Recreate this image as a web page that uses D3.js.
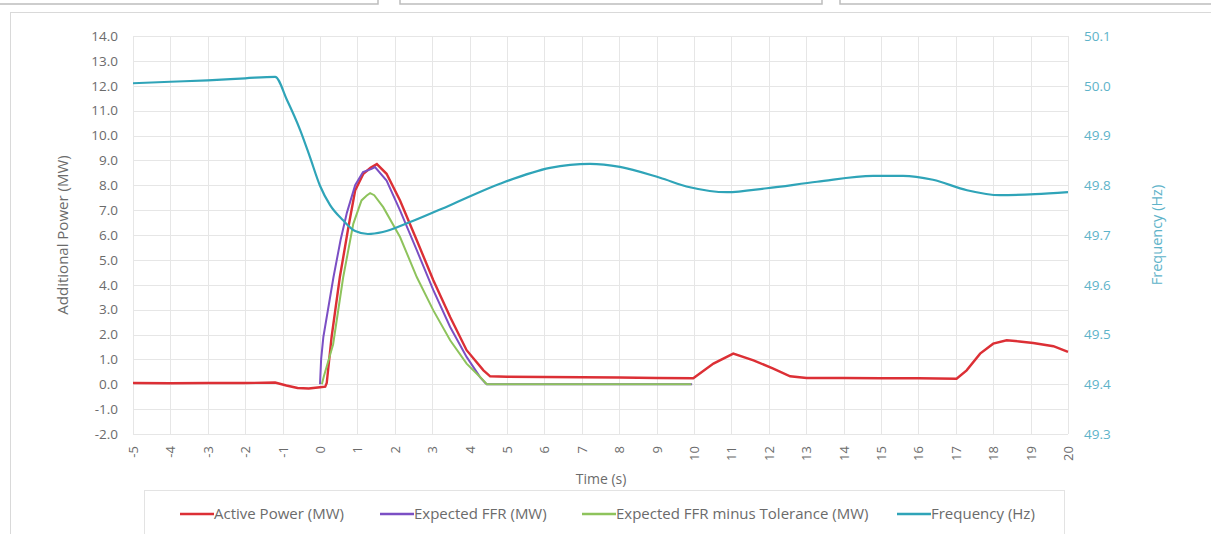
<!DOCTYPE html>
<html>
<head>
<meta charset="utf-8">
<script src="https://d3js.org/d3.v7.min.js"></script>
<style>
  body { margin: 0; background: #fff; }
  text { font-family: "Open Sans", sans-serif; }
</style>
</head>
<body>
<script>
// ---- data ----
var timeTicks = d3.range(-5, 21, 1);
var powerTicks = d3.range(-2, 14.01, 1);
var freqTicks = [49.3, 49.4, 49.5, 49.6, 49.7, 49.8, 49.9, 50.0, 50.1];

var activeT = [-5, -4, -3, -2, -1.2, -0.9, -0.6, -0.3, 0.0, 0.14, 0.18, 0.31, 0.53, 0.76, 0.94, 1.16, 1.35, 1.52, 1.78, 2.14, 2.59, 3.03, 3.48, 3.92, 4.37, 4.55, 5, 6, 7, 8, 9, 9.98, 10.52, 11.05, 11.59, 12.12, 12.57, 13.01, 14, 15, 16, 17.02, 17.29, 17.65, 18.0, 18.36, 18.7, 19.07, 19.61, 20];
var activeP = [0.05, 0.04, 0.05, 0.05, 0.07, -0.05, -0.15, -0.17, -0.12, -0.1, 0.05, 1.9, 4.3, 6.32, 7.79, 8.46, 8.7, 8.85, 8.46, 7.39, 5.78, 4.18, 2.7, 1.37, 0.56, 0.32, 0.3, 0.29, 0.28, 0.27, 0.25, 0.24, 0.83, 1.23, 0.96, 0.63, 0.32, 0.25, 0.25, 0.24, 0.24, 0.22, 0.56, 1.23, 1.63, 1.77, 1.72, 1.66, 1.53, 1.3];

var ffrT = [0.0, 0.03, 0.09, 0.36, 0.55, 0.72, 0.94, 1.15, 1.38, 1.47, 1.78, 2.14, 2.59, 3.03, 3.48, 3.92, 4.28, 4.42, 4.46, 9.95];
var ffrP = [0.0, 1.0, 1.9, 4.3, 5.8, 6.9, 8.0, 8.53, 8.66, 8.73, 8.19, 6.99, 5.38, 3.78, 2.3, 1.1, 0.29, 0.05, 0.0, 0.0];

var tolT = [0.05, 0.1, 0.35, 0.62, 0.89, 1.11, 1.25, 1.34, 1.45, 1.69, 2.14, 2.59, 3.03, 3.48, 3.92, 4.28, 4.46, 9.93];
var tolP = [0.0, 0.3, 1.6, 4.3, 6.45, 7.39, 7.59, 7.68, 7.6, 7.12, 5.92, 4.3, 2.97, 1.77, 0.83, 0.29, 0.0, 0.0];

var freqT = [-5, -4, -3, -2, -1.2, -0.88, -0.53, -0.27, 0.0, 0.27, 0.61, 0.94, 1.28, 1.68, 2.41, 3.48, 4.81, 6.15, 7.22, 8.02, 9.09, 9.89, 10.88, 11.95, 13.29, 14.79, 15.59, 16.39, 17.3, 18.18, 19.12, 20];
var freqHz = [50.005, 50.008, 50.011, 50.015, 50.018, 49.971, 49.911, 49.857, 49.799, 49.760, 49.730, 49.708, 49.702, 49.706, 49.726, 49.760, 49.803, 49.835, 49.843, 49.837, 49.815, 49.796, 49.786, 49.794, 49.807, 49.819, 49.819, 49.811, 49.790, 49.780, 49.782, 49.786];

var seriesNames = ["Active Power (MW)", "Expected FFR (MW)", "Expected FFR minus Tolerance (MW)", "Frequency (Hz)"];
var seriesColors = ["#dc2f35", "#7b4fc4", "#8ec35c", "#2fa4b8"];

// ---- chart ----
var W = 1211, H = 534;
var svg = d3.select("body").append("svg")
  .attr("width", W).attr("height", H);

// neighbouring panels peeking in at the top, and the chart frame
[[-2, 378], [400, 822], [840, 1215]].forEach(function (p) {
  svg.append("rect").attr("x", p[0]).attr("y", -20)
    .attr("width", p[1] - p[0]).attr("height", 24)
    .attr("fill", "#fff").attr("stroke", "#bdbdbd").attr("stroke-width", 1.5);
});
svg.append("rect").attr("x", 10.5).attr("y", 12.5)
  .attr("width", 1220).attr("height", 540)
  .attr("fill", "#fff").attr("stroke", "#d9d9d9");

var x = d3.scaleLinear().domain([-5, 20]).range([133, 1068]);
var yL = d3.scaleLinear().domain([-2, 14]).range([434, 36]);
var yR = d3.scaleLinear().domain([49.3, 50.1]).range([434, 36]);

// plain hyphen instead of d3's unicode minus, as Excel prints it
function fmt(spec) {
  var f = d3.format(spec);
  return function (d) { return f(d).replace("\u2212", "-"); };
}

// grid
svg.append("g").selectAll("line").data(powerTicks).join("line")
  .attr("x1", x(-5)).attr("x2", x(20))
  .attr("y1", function (d) { return Math.round(yL(d)) + 0.5; })
  .attr("y2", function (d) { return Math.round(yL(d)) + 0.5; })
  .attr("stroke", "#e6e6e6");
svg.append("g").selectAll("line").data(timeTicks).join("line")
  .attr("y1", yL(14)).attr("y2", yL(-2))
  .attr("x1", function (d) { return Math.round(x(d)) + 0.5; })
  .attr("x2", function (d) { return Math.round(x(d)) + 0.5; })
  .attr("stroke", "#e6e6e6");

// axes
var axL = d3.axisLeft(yL).tickValues(powerTicks).tickSize(0).tickPadding(15)
  .tickFormat(fmt(".1f"));
svg.append("g").attr("transform", "translate(" + x(-5) + ",0)").call(axL)
  .call(function (g) { g.select(".domain").remove(); })
  .selectAll("text").attr("fill", "#6b6b6b").style("font-size", "13.5px");

var axR = d3.axisRight(yR).tickValues(freqTicks).tickSize(0).tickPadding(16)
  .tickFormat(fmt(".1f"));
svg.append("g").attr("transform", "translate(" + x(20) + ",0)").call(axR)
  .call(function (g) { g.select(".domain").remove(); })
  .selectAll("text").attr("fill", "#5eb3c9").style("font-size", "13.5px");

var axB = d3.axisBottom(x).tickValues(timeTicks).tickSize(0).tickPadding(0)
  .tickFormat(fmt("d"));
svg.append("g").attr("transform", "translate(0," + yL(-2) + ")").call(axB)
  .call(function (g) { g.select(".domain").remove(); })
  .selectAll("text")
  .attr("fill", "#6b6b6b").style("font-size", "13px")
  .attr("text-anchor", "end").attr("dy", "0.35em").attr("y", 0)
  .attr("transform", "translate(0,12) rotate(-90)");

// axis titles
svg.append("text").attr("x", 601).attr("y", 484).attr("text-anchor", "middle")
  .attr("fill", "#6b6b6b").style("font-size", "14px").text("Time (s)");
svg.append("text").attr("transform", "translate(68,235) rotate(-90)")
  .attr("text-anchor", "middle").attr("fill", "#6b6b6b").style("font-size", "15px")
  .text("Additional Power (MW)");
svg.append("text").attr("transform", "translate(1162,235) rotate(-90)")
  .attr("text-anchor", "middle").attr("fill", "#5eb3c9").style("font-size", "14.5px")
  .text("Frequency (Hz)");

// series
function zipPts(ts, vs) { return ts.map(function (t, i) { return [t, vs[i]]; }); }
var lineL = d3.line().x(function (d) { return x(d[0]); }).y(function (d) { return yL(d[1]); });
var lineR = d3.line().x(function (d) { return x(d[0]); }).y(function (d) { return yR(d[1]); });

svg.append("path").datum(zipPts(activeT, activeP)).attr("d", lineL)
  .attr("fill", "none").attr("stroke", seriesColors[0]).attr("stroke-width", 2.4);
svg.append("path").datum(zipPts(ffrT, ffrP)).attr("d", lineL)
  .attr("fill", "none").attr("stroke", seriesColors[1]).attr("stroke-width", 2);
svg.append("path").datum(zipPts(tolT, tolP)).attr("d", lineL)
  .attr("fill", "none").attr("stroke", seriesColors[2]).attr("stroke-width", 2);
svg.append("path").datum(zipPts(freqT, freqHz)).attr("d", lineR.curve(d3.curveMonotoneX))
  .attr("fill", "none").attr("stroke", seriesColors[3]).attr("stroke-width", 2.2);

// legend
svg.append("rect").attr("x", 144.5).attr("y", 490.5).attr("width", 920).attr("height", 60)
  .attr("fill", "#fff").attr("stroke", "#e3e3e3");
var legX = [180, 380, 582, 897];
var leg = svg.append("g").selectAll("g").data(seriesNames).join("g")
  .attr("transform", function (d, i) { return "translate(" + legX[i] + ",514)"; });
leg.append("line").attr("x1", 0).attr("x2", 34)
  .attr("stroke", function (d, i) { return seriesColors[i]; }).attr("stroke-width", 2.5);
leg.append("text").attr("x", 34).attr("dy", "0.35em")
  .attr("fill", "#6b6b6b").style("font-size", "15px")
  .text(function (d) { return d; });
</script>
</body>
</html>
